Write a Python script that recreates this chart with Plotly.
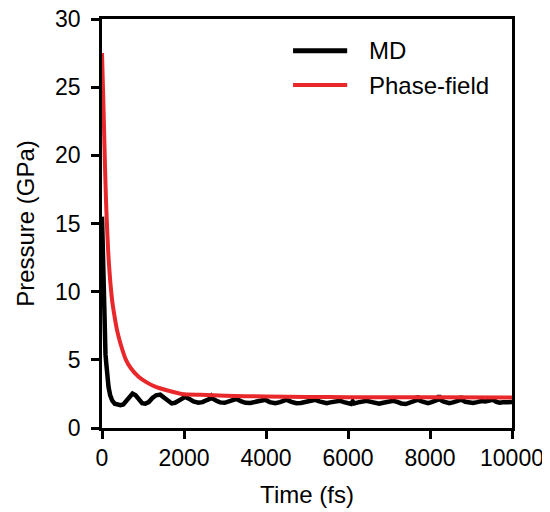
import plotly.graph_objects as go

# ---- data ----
md_time = [0, 15, 30, 45, 56, 70, 85, 105, 130, 160, 200, 250, 310, 380, 450, 520, 590, 660, 745, 820,
           900, 980, 1055, 1140, 1230, 1320, 1420, 1500, 1600, 1700, 1780, 1880, 1960, 2030, 2120, 2230,
           2350, 2450, 2560, 2640, 2670, 2700, 2790, 2880, 2990, 3090, 3200, 3260, 3280, 3300, 3400, 3500,
           3620, 3730, 3850, 3950, 3970, 3990, 4090, 4230, 4340, 4430, 4480, 4500, 4520, 4620, 4740, 4850,
           4960, 5080, 5170, 5190, 5210, 5300, 5400, 5480, 5570, 5680, 5800, 5900, 6000, 6075, 6115, 6150,
           6250, 6350, 6450, 6560, 6660, 6760, 6860, 6980, 7100, 7200, 7300, 7410, 7500, 7600, 7680, 7700,
           7720, 7800, 7880, 7950, 8040, 8150, 8200, 8220, 8240, 8320, 8400, 8470, 8560, 8660, 8740, 8760,
           8780, 8860, 8960, 9050, 9150, 9260, 9350, 9440, 9500, 9520, 9540, 9620, 9700, 9780, 9860, 9940,
           10000]
md_pressure = [15.5, 13.0, 10.8, 8.6, 7.2, 6.2, 5.4, 4.7, 3.8, 3.0, 2.4, 2.0, 1.78, 1.7, 1.68, 1.72, 1.95, 2.3, 2.52, 2.4,
               2.05, 1.82, 1.78, 1.9, 2.2, 2.4, 2.45, 2.25, 1.95, 1.8, 1.85, 2.05, 2.22, 2.28, 2.15, 1.95,
               1.85, 1.9, 2.05, 2.15, 2.3, 2.15, 2.0, 1.88, 1.85, 1.92, 2.05, 2.12, 2.3, 2.1, 1.95, 1.85,
               1.84, 1.9, 2.0, 2.05, 2.3, 2.05, 1.9, 1.82, 1.9, 2.0, 2.05, 2.35, 2.05, 1.92, 1.82, 1.83,
               1.92, 2.0, 2.05, 2.35, 2.05, 1.95, 1.85, 1.82, 1.88, 1.97, 2.0, 1.9, 1.8, 1.76, 1.95, 1.8,
               1.88, 1.98, 2.0, 1.92, 1.82, 1.78, 1.85, 1.95, 2.0, 1.92, 1.8, 1.76, 1.85, 1.95, 2.05, 2.38,
               2.05, 1.95, 1.85, 1.82, 1.9, 2.0, 2.08, 2.4, 2.08, 1.95, 1.85, 1.82, 1.88, 1.98, 2.05, 2.35,
               2.05, 1.92, 1.85, 1.84, 1.9, 1.98, 1.95, 2.0, 2.05, 2.25, 2.05, 1.92, 1.85, 1.88, 1.86, 1.84,
               1.9]

pf_time = [0, 25, 50, 75, 100, 125, 150, 175, 200, 250, 300, 365, 450, 584, 700, 891, 1100, 1297,
           1600, 1946, 2400, 3000, 4000, 5000, 6000, 8000, 10000]
pf_pressure = [27.5, 24.8, 21.9, 19.0, 16.5, 14.6, 13.0, 11.8, 10.8, 9.3, 8.3, 7.2, 6.2, 5.0, 4.4, 3.76, 3.33, 3.03,
               2.75, 2.5, 2.43, 2.37, 2.31, 2.28, 2.26, 2.25, 2.24]

series_names = ["MD", "Phase-field"]
x_ticks = [0, 2000, 4000, 6000, 8000, 10000]
y_ticks = [0, 5, 10, 15, 20, 25, 30]

BLACK = "#000000"
RED = "#e8282b"
FONT = "Arial, Liberation Sans, sans-serif"

fig = go.Figure()
fig.add_trace(go.Scatter(x=md_time, y=md_pressure, mode="lines", name=series_names[0],
                         line=dict(color=BLACK, width=4.5), showlegend=False))
fig.add_trace(go.Scatter(x=pf_time, y=pf_pressure, mode="lines", name=series_names[1],
                         line=dict(color=RED, width=4, shape="spline", smoothing=0.6), showlegend=False))

# manual legend (long line samples like the reference)
legend_rows = [(series_names[0], BLACK, 5, 0.9225), (series_names[1], RED, 4, 0.8386)]
for name, col, w, yy in legend_rows:
    fig.add_shape(type="line", xref="paper", yref="paper", x0=0.466, x1=0.598, y0=yy, y1=yy,
                  line=dict(color=col, width=w))
    fig.add_annotation(text=name, xref="paper", yref="paper", x=0.6456, y=yy, xanchor="left",
                       yanchor="middle", showarrow=False, font=dict(family=FONT, size=24, color="#000"))

axis_common = dict(showline=True, linecolor="black", linewidth=2.5, mirror=True,
                   ticks="outside", ticklen=8, tickwidth=2.5, tickcolor="black",
                   showgrid=False, zeroline=False, automargin=False, ticklabeloverflow="allow",
                   tickfont=dict(family=FONT, size=23, color="#000"))

fig.update_xaxes(range=[0, 10000], tickvals=x_ticks, ticktext=[str(v) for v in x_ticks],
                 title=dict(text="Time (fs)", font=dict(family=FONT, size=24, color="#000"), standoff=16),
                 **axis_common)
fig.update_yaxes(range=[0, 30], tickvals=y_ticks, ticktext=[str(v) for v in y_ticks],
                 ticklabelstandoff=6,
                 title=dict(text="Pressure (GPa)", font=dict(family=FONT, size=24, color="#000"), standoff=14),
                 **axis_common)

# the page body adds an 8px offset, so the figure is sized to fit the 550x512 window
fig.update_layout(width=542, height=504, margin=dict(l=94, r=38, t=11, b=84),
                  plot_bgcolor="white", paper_bgcolor="white", showlegend=False)

fig.write_html("out.html")
